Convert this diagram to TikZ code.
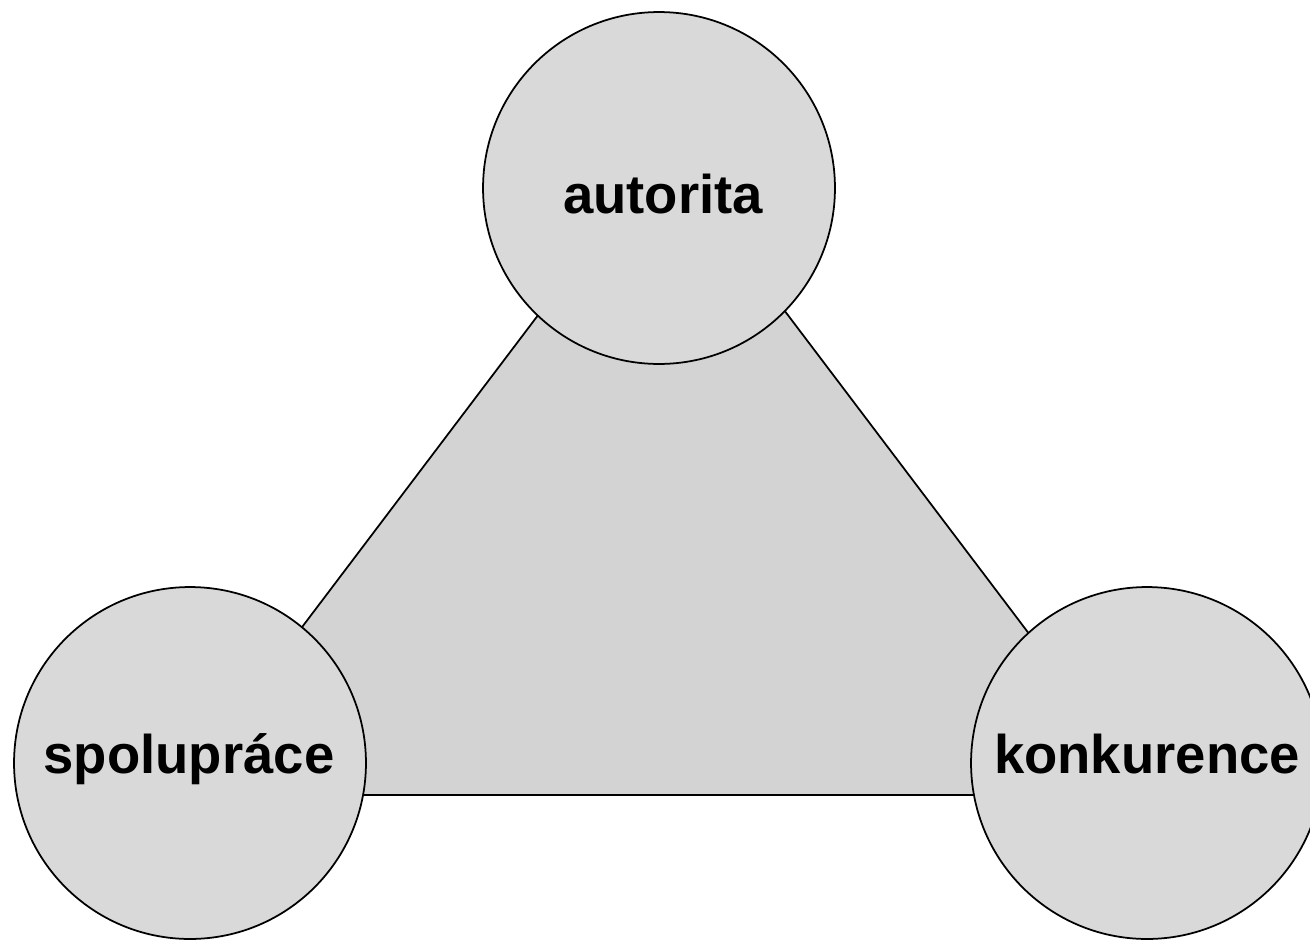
\documentclass[tikz,border=0pt]{standalone}
\usepackage{fontspec}
\setmainfont{Liberation Sans}
\usepackage{tikz}
\usetikzlibrary{positioning,calc}
\definecolor{TriGray}{HTML}{D3D3D3}
\definecolor{BallGray}{HTML}{D9D9D9}

\begin{document}
\begin{tikzpicture}[
	x=0.02cm,y=-0.02cm,
	ball/.style={
		circle,
		draw=black,
		line width=1pt,
		fill=BallGray,
		inner sep=0pt,
		minimum size=7.04cm
	},
	word/.style={
		anchor=base,
		inner sep=0pt,
		font=\fontsize{31}{36}\selectfont\bfseries
	},
	]
	\clip (0,0) rectangle (1310,940);
	\fill[white] (0,0) rectangle (1310,940);
	
	\coordinate (TL) at (175,795);
	\coordinate (TT) at (663,150);
	\coordinate (TR) at (1151,795);
	\filldraw[fill=TriGray, line width=1pt, line join=round] (TL) -- (TT) -- (TR) -- cycle;
	
	\node[ball] (A) at (659,188) {};
	\node[ball] (S) at (190,763) {};
	\node[ball] (K) at (1147,763) {};
	
	\node[word] (At) at ($(A) + (4,25)$) {autorita};
	\node[word] (St) at ($(S) + (-1,10)$) {spolupráce};
	\node[word] (Kt) at ($(K) + (0,10)$) {konkurence};
\end{tikzpicture}
\end{document}
